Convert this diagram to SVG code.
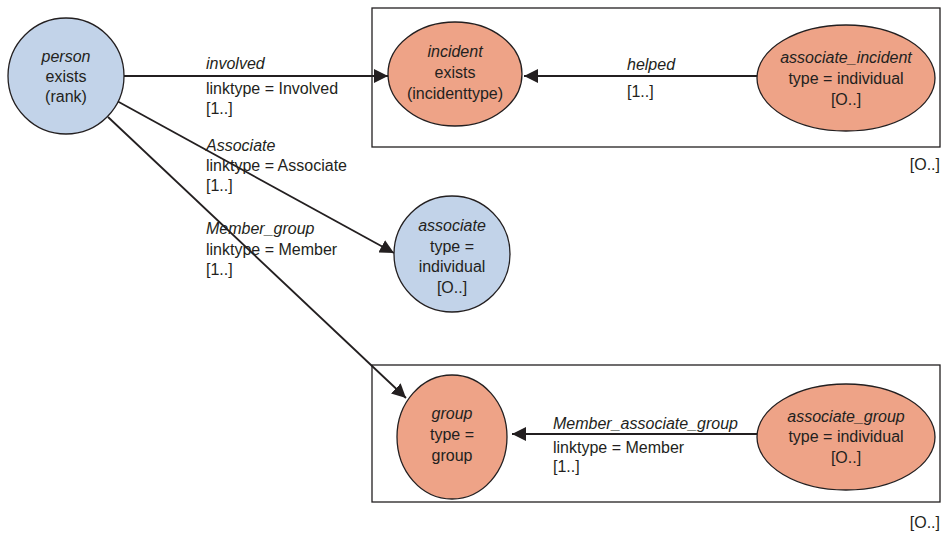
<svg xmlns="http://www.w3.org/2000/svg" width="946" height="535" viewBox="0 0 946 535">
<style>
text{font-family:"Liberation Sans",Arial,sans-serif;font-size:16px;fill:#231f20}
.i{font-style:italic}
.c{text-anchor:middle}
.blue{fill:#c2d3e9;stroke:#231f20;stroke-width:1.3}
.red{fill:#eea387;stroke:#231f20;stroke-width:1.3}
.box{fill:none;stroke:#231f20;stroke-width:1.3}
.edge{stroke:#231f20;stroke-width:1.8;fill:none;marker-end:url(#ah)}
</style>
<defs>
<marker id="ah" viewBox="0 0 10 10" refX="10" refY="5" markerWidth="14" markerHeight="14" markerUnits="userSpaceOnUse" orient="auto">
<path d="M0,0 L10,5 L0,10 z" fill="#231f20"/>
</marker>
</defs>
<g id="box_incident"><rect class="box" x="372" y="8" width="568" height="139"/><text x="940" y="170" text-anchor="end">[O..]</text></g>
<g id="box_group"><rect class="box" x="372" y="365" width="568" height="137"/><text x="940" y="528" text-anchor="end">[O..]</text></g>
<g id="connectors">
<g id="e_involved"><line class="edge" x1="124" y1="76" x2="388" y2="76"/>
<text class="i" x="206" y="69">involved</text><text x="206" y="94">linktype = Involved</text><text x="206" y="114">[1..]</text></g>
<g id="e_associate"><line class="edge" x1="117" y1="101" x2="394" y2="253"/>
<text class="i" x="206" y="151">Associate</text><text x="206" y="171">linktype = Associate</text><text x="206" y="191">[1..]</text></g>
<g id="e_member_group"><line class="edge" x1="108" y1="117" x2="406" y2="398"/>
<text class="i" x="206" y="234">Member_group</text><text x="206" y="255">linktype = Member</text><text x="206" y="275">[1..]</text></g>
<g id="e_helped"><line class="edge" x1="757" y1="76" x2="524" y2="76"/>
<text class="i" x="627" y="70">helped</text><text x="627" y="97">[1..]</text></g>
<g id="e_member_assoc_group"><line class="edge" x1="757" y1="434" x2="512" y2="434"/>
<text class="i" x="553" y="429">Member_associate_group</text><text x="553" y="453">linktype = Member</text><text x="553" y="472">[1..]</text></g>
</g>
<g id="person"><circle class="blue" cx="66" cy="76" r="58"/>
<text class="c i" x="66" y="62">person</text><text class="c" x="66" y="82">exists</text><text class="c" x="66" y="102">(rank)</text></g>
<g id="incident"><ellipse class="red" cx="455" cy="74" rx="67" ry="52"/>
<text class="c i" x="455" y="57">incident</text><text class="c" x="455" y="78">exists</text><text class="c" x="455" y="99">(incidenttype)</text></g>
<g id="associate_incident"><ellipse class="red" cx="846" cy="78" rx="89" ry="53"/>
<text class="c i" x="846" y="63">associate_incident</text><text class="c" x="846" y="84">type = individual</text><text class="c" x="846" y="105">[O..]</text></g>
<g id="associate"><circle class="blue" cx="452" cy="254" r="58"/>
<text class="c i" x="452" y="231">associate</text><text class="c" x="452" y="252">type =</text><text class="c" x="452" y="272">individual</text><text class="c" x="452" y="293">[O..]</text></g>
<g id="group"><ellipse class="red" cx="452" cy="437" rx="55" ry="62"/>
<text class="c i" x="452" y="419">group</text><text class="c" x="452" y="440">type =</text><text class="c" x="452" y="461">group</text></g>
<g id="associate_group"><ellipse class="red" cx="846" cy="437" rx="89" ry="53"/>
<text class="c i" x="846" y="422">associate_group</text><text class="c" x="846" y="442">type = individual</text><text class="c" x="846" y="463">[O..]</text></g>
</svg>
